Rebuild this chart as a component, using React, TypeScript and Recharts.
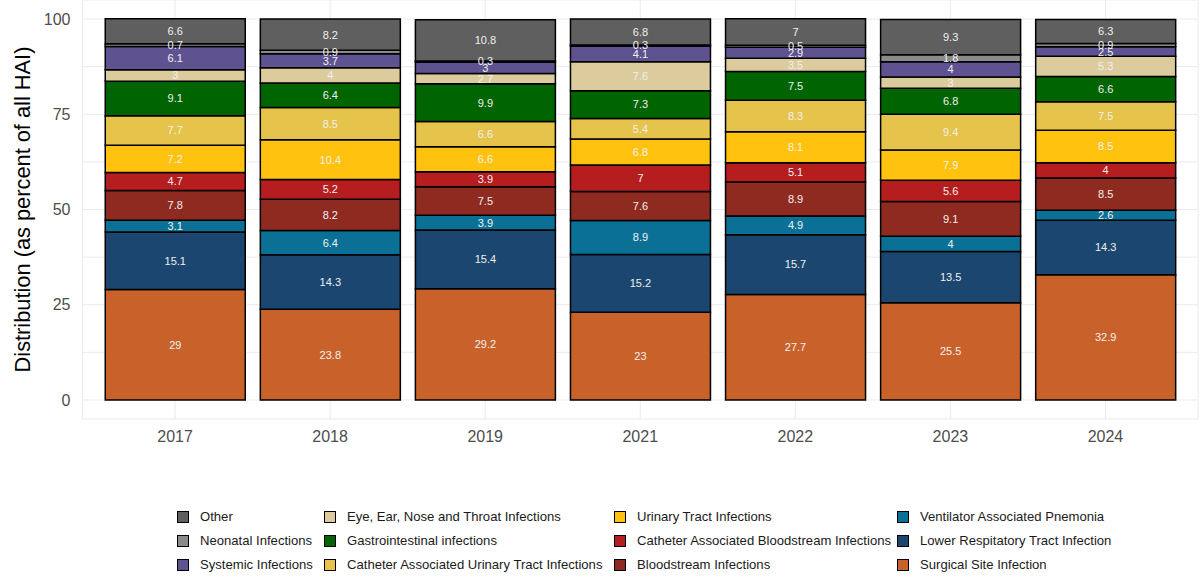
import { BarChart, Bar, XAxis, YAxis, CartesianGrid, LabelList } from 'recharts';

// years on the x axis
const years = ['2017', '2018', '2019', '2021', '2022', '2023', '2024'];

// each series, bottom of the stack first
const surgicalSite = [29, 23.8, 29.2, 23, 27.7, 25.5, 32.9];
const lowerRespiratory = [15.1, 14.3, 15.4, 15.2, 15.7, 13.5, 14.3];
const ventilator = [3.1, 6.4, 3.9, 8.9, 4.9, 4, 2.6];
const bloodstream = [7.8, 8.2, 7.5, 7.6, 8.9, 9.1, 8.5];
const catheterBloodstream = [4.7, 5.2, 3.9, 7, 5.1, 5.6, 4];
const urinaryTract = [7.2, 10.4, 6.6, 6.8, 8.1, 7.9, 8.5];
const catheterUrinary = [7.7, 8.5, 6.6, 5.4, 8.3, 9.4, 7.5];
const gastro = [9.1, 6.4, 9.9, 7.3, 7.5, 6.8, 6.6];
const eyeEarNose = [3, 4, 2.7, 7.6, 3.5, 3, 5.3];
const systemic = [6.1, 3.7, 3, 4.1, 2.9, 4, 2.5];
const neonatal = [0.7, 0.9, 0.3, 0.3, 0.5, 1.8, 0.9];
const other = [6.6, 8.2, 10.8, 6.8, 7, 9.3, 6.3];

const yTicks = [0, 12.5, 25, 37.5, 50, 62.5, 75, 87.5, 100];

const series = [
  { key: 'ssi', name: 'Surgical Site Infection', values: surgicalSite, color: '#c8622a' },
  { key: 'lrti', name: 'Lower Respitatory Tract Infection', values: lowerRespiratory, color: '#1b4670' },
  { key: 'vap', name: 'Ventilator Associated Pnemonia', values: ventilator, color: '#0b7095' },
  { key: 'bsi', name: 'Bloodstream Infections', values: bloodstream, color: '#8f2a20' },
  { key: 'cabsi', name: 'Catheter Associated Bloodstream Infections', values: catheterBloodstream, color: '#b51d1f' },
  { key: 'uti', name: 'Urinary Tract Infections', values: urinaryTract, color: '#ffc20e' },
  { key: 'cauti', name: 'Catheter Associated Urinary Tract Infections', values: catheterUrinary, color: '#e6c34a' },
  { key: 'gi', name: 'Gastrointestinal infections', values: gastro, color: '#006400' },
  { key: 'eent', name: 'Eye, Ear, Nose and Throat Infections', values: eyeEarNose, color: '#dccb9c' },
  { key: 'sys', name: 'Systemic Infections', values: systemic, color: '#5f5291' },
  { key: 'neo', name: 'Neonatal Infections', values: neonatal, color: '#8a8a8a' },
  { key: 'other', name: 'Other', values: other, color: '#5f5f5f' },
];

const data = years.map((year, i) => {
  const row: Record<string, string | number> = { year };
  series.forEach((s) => {
    row[s.key] = s.values[i];
  });
  return row;
});

// legend laid out in columns, like ggplot's byrow = FALSE
const legendColumns = [
  ['other', 'neo', 'sys'],
  ['eent', 'gi', 'cauti'],
  ['uti', 'cabsi', 'bsi'],
  ['vap', 'lrti', 'ssi'],
];
const legendColX = [177, 324, 614, 897];

const FONT = '"Liberation Sans", Arial, sans-serif';

function ChartLegend() {
  return (
    <div style={{ position: 'absolute', left: 0, top: 0, width: 1200, height: 578, pointerEvents: 'none' }}>
      {legendColumns.map((col, c) =>
        col.map((key, r) => {
          const s = series.find((d) => d.key === key)!;
          return (
            <div
              key={key}
              style={{
                position: 'absolute',
                left: legendColX[c],
                top: 509 + r * 24,
                display: 'flex',
                alignItems: 'center',
                fontFamily: FONT,
                fontSize: 13.1,
                color: '#1a1a1a',
                whiteSpace: 'nowrap',
              }}
            >
              <span
                style={{
                  display: 'inline-block',
                  width: 10,
                  height: 10,
                  background: s.color,
                  border: '1.5px solid #000',
                  marginRight: 11,
                }}
              />
              {s.name}
            </div>
          );
        })
      )}
    </div>
  );
}

export default function App() {
  return (
    <div style={{ position: 'absolute', left: 0, top: 0, width: 1200, height: 578, background: '#fff' }}>
      <BarChart
        width={1200}
        height={578}
        data={data}
        barCategoryGap="5%"
        margin={{ top: 0, right: 2, bottom: 129, left: 0 }}
      >
        <CartesianGrid stroke="#ebebeb" strokeWidth={1} />
        <XAxis
          dataKey="year"
          axisLine={false}
          tickLine={false}
          padding={{ left: 15, right: 15 }}
          tickMargin={6}
          tick={{ fontSize: 16, fill: '#4d4d4d', fontFamily: FONT }}
        />
        <YAxis
          width={82.5}
          domain={[-5, 105]}
          ticks={yTicks}
          interval={0}
          axisLine={false}
          tickLine={false}
          tickMargin={6}
          tickFormatter={(v: number) => (v % 25 === 0 ? String(v) : '')}
          tick={{ fontSize: 16, fill: '#4d4d4d', fontFamily: FONT }}
          label={{
            value: 'Distribution (as percent of all HAI)',
            angle: -90,
            position: 'insideLeft',
            offset: 22,
            style: { textAnchor: 'middle', fontSize: 21.8, fill: '#000', fontFamily: FONT },
          }}
        />
        {series.map((s) => (
          <Bar
            key={s.key}
            dataKey={s.key}
            name={s.name}
            stackId="hai"
            fill={s.color}
            stroke="#000"
            strokeWidth={1.5}
            isAnimationActive={false}
          >
            <LabelList
              dataKey={s.key}
              position="center"
              fill="#f0f0f0"
              fontSize={11}
              fontFamily={FONT}
            />
          </Bar>
        ))}
      </BarChart>
      <ChartLegend />
    </div>
  );
}
